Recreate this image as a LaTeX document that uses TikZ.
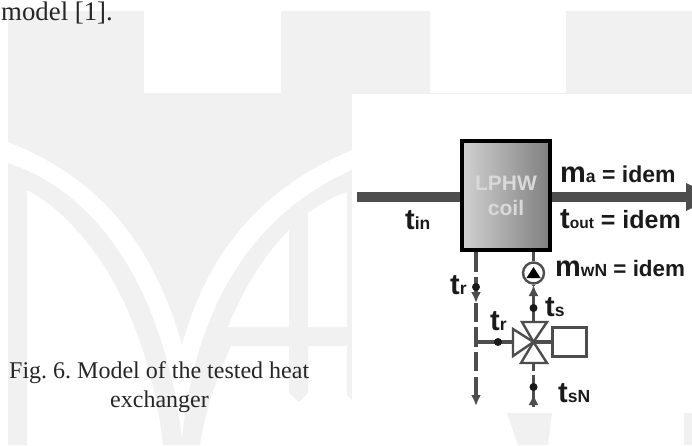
\documentclass[tikz,border=0pt]{standalone}
\usepackage{fontspec}
\setmainfont{Liberation Serif}
\newfontfamily\lblfont{Liberation Sans}[BoldFont={Liberation Sans Bold}]
\usetikzlibrary{shapes,arrows,arrows.meta}
\definecolor{markgray}{HTML}{F1F1F1}
\definecolor{pipegray}{HTML}{4D4D4D}
\definecolor{rimgray}{HTML}{1A1A1A}
% big letter with small index, as in the flow labels
\newcommand{\flowlbl}[3][17.5]{{\fontsize{29}{29}\selectfont #2}{\fontsize{#1}{18}\selectfont #3}}
\newcommand{\idem}[1][23]{{\fontsize{#1}{#1}\selectfont\ = idem}}
\tikzset{
	airpipe/.style={draw=pipegray, line width=10pt},
	waterpipe/.style={draw=pipegray, line width=3.2pt},
	tippipe/.style={waterpipe, -{Latex[length=11pt, width=10pt]}},
	valveside/.style={draw=pipegray, line width=2.4pt, fill=white, line join=miter},
	tdot/.style={circle, fill=rimgray, inner sep=0pt, minimum size=8pt},
	flowtext/.style={anchor=base west, inner sep=0pt, text=rimgray, font=\lblfont\bfseries},
	bodytext/.style={anchor=base west, inner sep=0pt, text=black!85, font=\fontsize{24}{24}\selectfont\frenchspacing},
}
\begin{document}
\begin{tikzpicture}[x=1pt, y=-1pt]
	\useasboundingbox (0,0) rectangle (692,445);
	% logo behind the page
	\fill[markgray] (8,11) -- (144,11) -- (144,93) -- (281,93) -- (281,11) -- (430,11) -- (430,93) -- (566,93) -- (566,11) -- (692,11) -- (692,94) -- (352,94) -- (352,150)
		.. controls (255,190) and (205,260) .. (182,345) .. controls (155,250) and (105,180) .. (8,142) -- cycle;
	\fill[markgray] (8,163) .. controls (105,195) and (165,300) .. (182,438) .. controls (195,310) and (250,215) .. (352,170) -- (352,400) -- (347,395) -- (347,346) -- (308,346) -- (308,393) -- (299,402) -- (289,393) -- (289,346) -- (231,346)
		.. controls (218,375) and (205,410) .. (200,445) -- (163,445) .. controls (150,330) and (100,230) .. (27,190) -- (27,445) -- (8,445) -- cycle;
	\fill[white] (347,192) .. controls (332,197) and (320,205) .. (308,213) -- (308,327) -- (347,327) -- cycle;
	\fill[white] (289,230) .. controls (265,255) and (245,285) .. (228,327) -- (289,327) -- cycle;
	\fill[white] (352,94) rectangle (692,413);
	\fill[markgray] (507,413) -- (552,413) -- (548,445) -- (518,445) -- cycle;
	\fill[markgray] (684,413) rectangle (692,445);

	% points on the pipes
	\coordinate (inL) at (357,197);
	\coordinate (outR) at (692,197);
	\coordinate (retA) at (476,272);
	\coordinate (retB) at (476,277);
	\coordinate (retC) at (476,303);
	\coordinate (retD) at (476,322);
	\coordinate (retE) at (476,327);
	\coordinate (retF) at (476,347);
	\coordinate (retG) at (476,352);
	\coordinate (retH) at (476,371);
	\coordinate (retI) at (476,377);
	\coordinate (retJ) at (476,406);
	\coordinate (tee) at (476,342);
	\coordinate (supA) at (533.5,285);
	\coordinate (valveTop) at (533.5,322);
	\coordinate (valveBot) at (533.5,363);
	\coordinate (supB) at (533.5,371);
	\coordinate (supC) at (533.5,375);
	\coordinate (supD) at (533.5,394);
	\coordinate (supE) at (533.5,407);
	\coordinate (valveMid) at (533.5,342);
	\coordinate (valveLeft) at (513,342);

	\node [draw=black, line width=3.6pt, minimum width=88pt, minimum height=109pt, inner sep=0pt, left color=black!18, right color=black!50, align=center, text=white!85!black, font=\lblfont\bfseries\fontsize{21}{25}\selectfont] (coil) at (506,195.5) {LPHW\\coil};

	% air side
	\draw[airpipe] (inL) -- (inL -| coil.west);
	\draw[airpipe] (outR -| coil.east) -- (outR);
	\fill[pipegray] (686,183) -- (692,186) -- (692,208) -- (686,211) -- cycle;
	\node [flowtext] (lblMa) at (560,182) {\flowlbl{m}{a}\idem};
	\node [flowtext] (lblTin) at (405,229) {\flowlbl{t}{in}};
	\node [flowtext] (lblTout) at (560,228) {\flowlbl[15.5]{t}{out}\idem[25]};

	% return line, broken up
	\draw[waterpipe] (retA) -- (retA |- coil.south);
	\draw[tippipe] (retB) -- (retC);
	\draw[waterpipe] (retC) -- (retD);
	\draw[waterpipe] (retE) -- (retF);
	\draw[waterpipe] (retG) -- (retH);
	\draw[tippipe] (retI) -- (retJ);
	\node [tdot] (dotR) at (476,287) {};
	\node [flowtext] (lblTr) at (450,294) {\flowlbl{t}{r}};

	% supply line with pump
	\node [circle, draw=pipegray, line width=2.4pt, fill=white, minimum size=21pt, inner sep=0pt] (pump) at (533.5,273) {};
	\fill[black] (533.5,267) -- (540.5,278) -- (526.5,278) -- cycle;
	\draw[waterpipe] (pump.north) -- (pump.north |- coil.south);
	\draw[tippipe] (valveTop) -- (supA);
	\draw[waterpipe] (supA) -- (pump.south);
	\node [tdot] (dotS) at (533.5,308) {};
	\node [flowtext] (lblMw) at (555,276) {\flowlbl{m}{wN}\idem[22.4]};
	\node [flowtext] (lblTs) at (545,316) {\flowlbl{t}{s}};

	% three way valve
	\node [draw=pipegray, line width=2.4pt, fill=white, minimum width=34pt, minimum height=29pt, inner sep=0pt] (drive) at (569.5,342) {};
	\draw[waterpipe] (tee) -- (valveLeft);
	\draw[waterpipe] (valveMid) -- (drive.west);
	\draw[valveside] (522,322) -- (547,322) -- (valveMid) -- cycle;
	\draw[valveside] (513,329) -- (513,356) -- (valveMid) -- cycle;
	\draw[valveside] (521,363) -- (547,363) -- (valveMid) -- cycle;
	\node [tdot] (dotT) at (498,342) {};
	\node [flowtext] (lblTrB) at (490,330) {\flowlbl{t}{r}};

	% feed from below
	\draw[waterpipe] (valveBot) -- (supB);
	\draw[waterpipe] (supC) -- (supE);
	\draw[tippipe] (supE) -- (supD);
	\node [tdot] (dotN) at (533.5,387) {};
	\node [flowtext] (lblTsn) at (558,402) {\flowlbl{t}{sN}};

	% text of the page
	\node [bodytext] (txtModel) at (1,20.5) {\fontsize{26.8}{26.8}\selectfont model [1].};
	\node [bodytext] (txtFig) at (9,378) {Fig. 6. Model of the tested heat};
	\node [bodytext] (txtExch) at (110,407) {exchanger};
\end{tikzpicture}
\end{document}
